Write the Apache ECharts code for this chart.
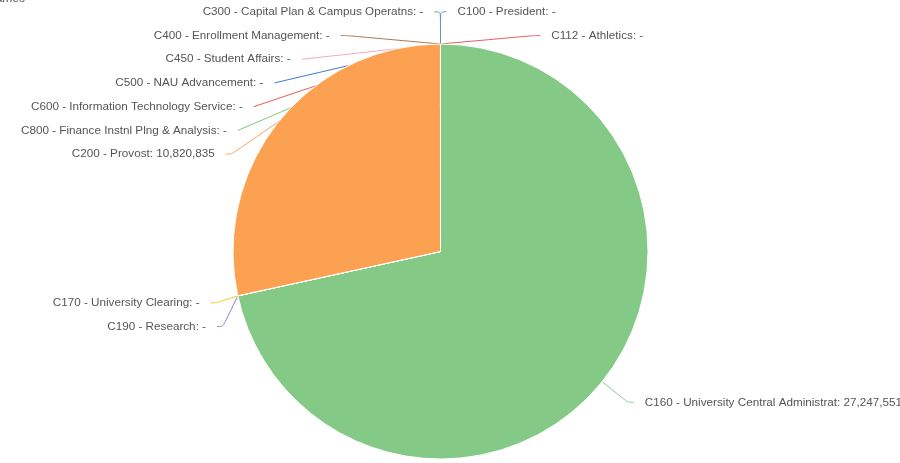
<!DOCTYPE html>
<html>
<head>
<meta charset="utf-8">
<script src="https://cdn.jsdelivr.net/npm/echarts@6/dist/echarts.min.js"></script>
<style>
  html, body { margin: 0; padding: 0; background: #fff; }
  #main { width: 900px; height: 463px; }
</style>
</head>
<body>
<div id="main"></div>
<script>
// departments, clockwise from 12 o'clock
const names = [
  'C100 - President',
  'C112 - Athletics',
  'C160 - University Central Administrat',
  'C170 - University Clearing',
  'C190 - Research',
  'C200 - Provost',
  'C300 - Capital Plan & Campus Operatns',
  'C400 - Enrollment Management',
  'C450 - Student Affairs',
  'C500 - NAU Advancement',
  'C600 - Information Technology Service',
  'C800 - Finance Instnl Plng & Analysis'
];
const amounts = [0, 0, 27247551, 0, 0, 10820835, 0, 0, 0, 0, 0, 0];
const colors = ['#5b93d3', '#e35b5b', '#85c987', '#f5c518', '#9b6fd0', '#fca152',
  '#6d8fb5', '#a8764a', '#f7a8c8', '#3d7cc9', '#e35b5b', '#7cc87e'];

const chart = echarts.init(document.getElementById('main'));

function fmt(p) {
  const v = p.value;
  return p.name + ': ' + (v ? v.toLocaleString('en-US') : '-');
}

chart.setOption({
  animation: false,
  color: colors,
  title: {
    text: 'Names',
    left: -18,
    top: -12,
    textStyle: { fontSize: 12, fontWeight: 'normal', color: '#555' }
  },
  series: [
    {
      type: 'pie',
      center: [440.5, 251.5],
      radius: 207.5,
      // tiny offsets so the empty slices at 12 o'clock split left / right
      startAngle: 89.999,
      endAngle: -269.999,
      clockwise: true,
      itemStyle: { borderColor: '#fff', borderWidth: 1 },
      label: {
        show: true,
        formatter: fmt,
        color: '#555',
        fontSize: 11.7,
        lineHeight: 21.7,
        overflow: 'none',
        distanceToLabelLine: 11,
        fontFamily: 'Liberation Sans, Arial, sans-serif'
      },
      labelLine: { show: true, smooth: true, length: 33, length2: 6 },
      data: names.map((n, i) => ({ name: n, value: amounts[i] }))
    }
  ]
});
</script>
</body>
</html>
